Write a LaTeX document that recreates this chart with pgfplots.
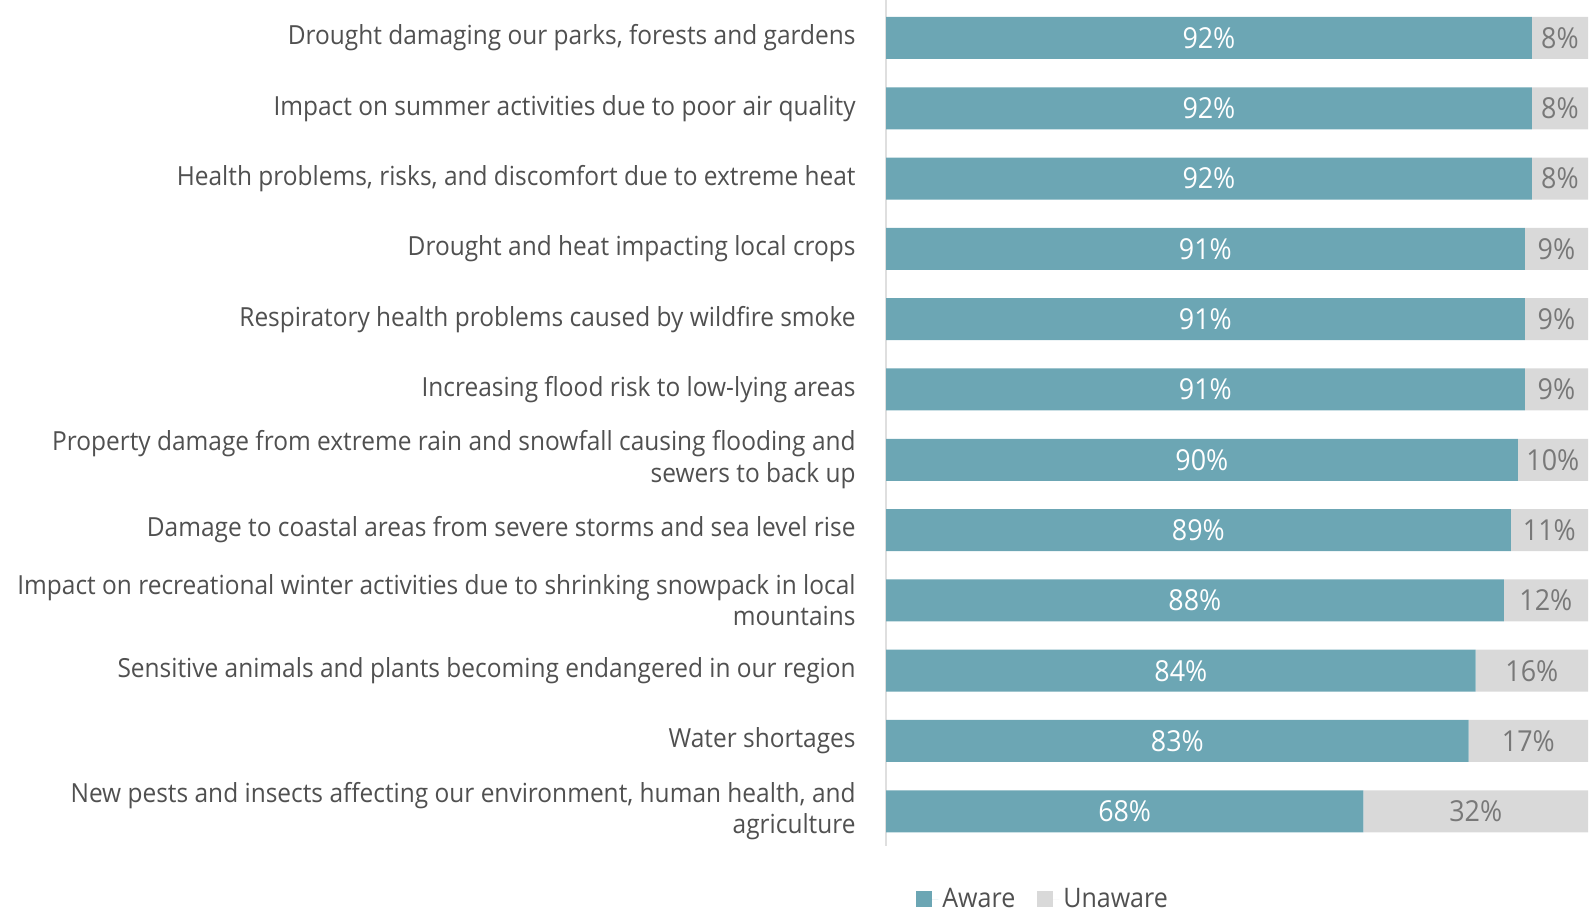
\documentclass[border=0pt]{standalone}
\usepackage{pgfplots}
\usepackage{pgfplotstable}
\pgfplotsset{compat=1.18}
\usepackage{fontspec}
\setmainfont{Open Sans}[FakeStretch=0.93]
\definecolor{teal1}{RGB}{108,166,180}
\definecolor{gray1}{RGB}{217,217,217}
\definecolor{lab}{RGB}{80,80,80}
\definecolor{ulab}{RGB}{120,120,120}
\pgfplotstableread{
idx aware unaware
0 92 8
1 92 8
2 92 8
3 91 9
4 91 9
5 91 9
6 90 10
7 89 11
8 88 12
9 84 16
10 83 17
11 68 32
}\datatable
\begin{document}
\begin{tikzpicture}
\useasboundingbox (0,0) rectangle (796.5bp,-455.5bp);
\begin{axis}[
  at={(443bp,0bp)}, anchor=north west,
  x=3.51bp, y=35.15bp,
  xmin=0, xmax=100,
  ymin=-0.54, ymax=11.5,
  y dir=reverse,
  xbar stacked, bar width=21bp,
  axis x line=none,
  axis y line*=left,
  y axis line style={draw=gray!25, line width=1bp},
  major tick length=0pt,
  ytick={0,...,11},
  yticklabels={
    Drought damaging our parks{,} forests and gardens,
    Impact on summer activities due to poor air quality,
    {Health problems, risks, and discomfort due to extreme heat},
    Drought and heat impacting local crops,
    Respiratory health problems caused by wildfire smoke,
    Increasing flood risk to low-lying areas,
    {Property damage from extreme rain and snowfall causing flooding and\\sewers to back up},
    Damage to coastal areas from severe storms and sea level rise,
    {Impact on recreational winter activities due to shrinking snowpack in local\\mountains},
    Sensitive animals and plants becoming endangered in our region,
    Water shortages,
    {New pests and insects affecting our environment, human health, and\\agriculture}
  },
  yticklabel style={align=right, anchor=east, inner sep=0pt, xshift=-15bp,
    font=\fontsize{13.2}{15.8}\selectfont, text=lab},
  point meta=explicit,
  nodes near coords={\pgfmathprintnumber[assume math mode=true]{\pgfplotspointmeta}\%},
  nodes near coords style={anchor=center, font=\fontsize{14.5}{16}\selectfont},
  legend style={at={(0,0)}, anchor=west, xshift=15bp, yshift=-26.5bp, draw=none, fill=none,
    inner sep=0pt, legend columns=2, font=\fontsize{13.5}{16}\selectfont, text=lab,
    /tikz/every even column/.append style={column sep=9bp}},
  legend image code/.code={\draw[#1,draw=none] (0bp,-4bp) rectangle (8bp,4bp); \path (0bp,0bp) -- (11bp,0bp);},
]
\addplot[fill=teal1, draw=none,
  every node near coord/.append style={text=white}]
  table[x=aware, y=idx, meta=aware] \datatable;
\addplot[fill=gray1, draw=none,
  every node near coord/.append style={text=ulab}]
  table[x=unaware, y=idx, meta=unaware] \datatable;
\legend{Aware, Unaware}
\end{axis}
\end{tikzpicture}
\end{document}
